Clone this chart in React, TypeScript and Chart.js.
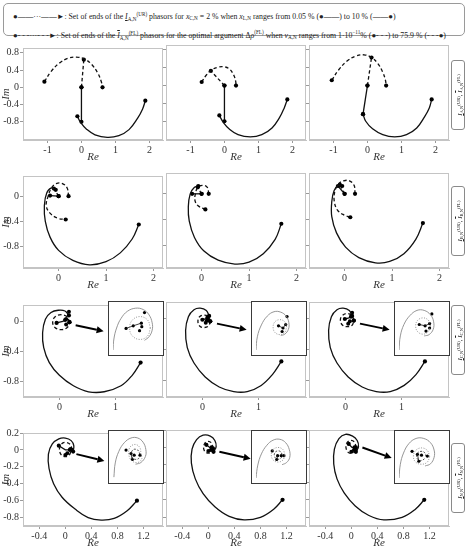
import React, { useEffect, useRef } from "react";
import { Chart, registerables } from "chart.js";
Chart.register(...registerables);

type Pt = [number, number];

// ---------- axis ranges & tick labels (per row) ----------
const R1_X: Pt = [-1.72, 2.4];
const R1_Y: Pt = [-1.22, 0.91];
const R1_XTICKS = [-1, 0, 1, 2];
const R1_YTICKS = [0.8, 0.4, 0, -0.4, -0.8];
const R2_X: Pt = [-0.75, 2.2];
const R2_Y: Pt = [-1.14, 0.32];
const R2_XTICKS = [0, 1, 2];
const R2_YTICKS = [0, -0.4, -0.8];
const R3_X: Pt = [-0.65, 1.85];
const R3_Y: Pt = [-1.01, 0.22];
const R3_XTICKS = [0, 1];
const R3_YTICKS = [0, -0.4, -0.8];
const R4_X: Pt = [-0.65, 1.5];
const R4_Y: Pt = [-0.9, 0.2];
const R4_XTICKS = [-0.4, 0, 0.4, 0.8, 1.2];
const R4_YTICKS = [0.2, 0, -0.2, -0.4, -0.6, -0.8];

// ---------- row 1 ----------
const R1C1_SOLID: Pt[] = [[-0.12, -0.67], [-0.02, -0.82], [0.15, -0.97], [0.4, -1.1], [0.76, -1.16], [1.1, -1.12], [1.4, -0.98], [1.65, -0.72], [1.8, -0.5], [1.88, -0.31]];
const R1C1_SPH: Pt[] = [[0, 0], [0, -0.8]];
const R1C1_DASH: Pt[] = [[-1.09, 0.13], [-0.9, 0.36], [-0.65, 0.56], [-0.4, 0.67], [-0.15, 0.7], [0.1, 0.65], [0.3, 0.53], [0.48, 0.33], [0.58, 0.14], [0.62, 0]];
const R1C1_DPH: Pt[] = [[0, 0], [0.07, 0.64]];

const R1C2_SOLID: Pt[] = [[-0.15, -0.67], [-0.03, -0.83], [0.15, -0.98], [0.4, -1.1], [0.76, -1.15], [1.1, -1.1], [1.4, -0.95], [1.62, -0.72], [1.76, -0.5], [1.85, -0.31]];
const R1C2_SPH: Pt[] = [[0, 0], [0, -0.8]];
const R1C2_DASH: Pt[] = [[-0.67, 0.08], [-0.55, 0.22], [-0.4, 0.34], [-0.2, 0.41], [0, 0.42], [0.15, 0.37], [0.27, 0.24], [0.33, 0.1], [0.34, 0]];
const R1C2_DPH: Pt[] = [[0, 0], [-0.4, 0.33]];

const R1C3_SOLID: Pt[] = [[-0.13, -0.64], [-0.05, -0.8], [0.15, -0.97], [0.45, -1.1], [0.8, -1.15], [1.15, -1.1], [1.45, -0.95], [1.68, -0.7], [1.82, -0.5], [1.89, -0.31]];
const R1C3_SPH: Pt[] = [[0, 0], [-0.13, -0.64]];
const R1C3_DASH: Pt[] = [[-1.05, 0.12], [-0.85, 0.35], [-0.6, 0.55], [-0.35, 0.66], [-0.1, 0.69], [0.12, 0.63], [0.3, 0.5], [0.45, 0.3], [0.53, 0.12], [0.55, 0]];
const R1C3_DPH: Pt[] = [[0, 0], [0.12, 0.63]];

// ---------- row 2 ----------
const R2C1_SOLID: Pt[] = [[1.69, -0.45], [1.55, -0.68], [1.3, -0.9], [1.0, -1.04], [0.65, -1.09], [0.3, -1.02], [0.0, -0.86], [-0.18, -0.65], [-0.28, -0.4], [-0.3, -0.15], [-0.25, 0.05], [-0.15, 0.13], [-0.06, 0.1]];
const R2C1_SPH: Pt[] = [[-0.18, 0.01], [0, 0]];
const R2C1_DASH: Pt[] = [[0.21, 0], [0.18, 0.13], [0.08, 0.2], [-0.05, 0.2], [-0.15, 0.13], [-0.22, 0.0], [-0.26, -0.15], [-0.18, -0.27], [-0.02, -0.35], [0.15, -0.37]];
const R2C1_DPH: Pt[] = [[0, 0], [-0.1, 0.12]];

const R2C2_SOLID: Pt[] = [[1.68, -0.46], [1.55, -0.7], [1.3, -0.92], [1.0, -1.05], [0.7, -1.08], [0.35, -1.02], [0.05, -0.88], [-0.15, -0.67], [-0.26, -0.42], [-0.28, -0.2], [-0.24, 0.0], [-0.15, 0.1], [-0.07, 0.12]];
const R2C2_SPH: Pt[] = [[-0.2, 0], [0, 0]];
const R2C2_DASH: Pt[] = [[0.15, 0], [0.12, 0.1], [0.02, 0.13], [-0.08, 0.1], [-0.13, 0.0], [-0.14, -0.1], [-0.08, -0.18], [0.08, -0.24]];
const R2C2_DPH: Pt[] = [[0, 0], [-0.08, 0.1]];

const R2C3_SOLID: Pt[] = [[1.65, -0.45], [1.5, -0.7], [1.25, -0.92], [0.95, -1.04], [0.65, -1.06], [0.3, -0.98], [0.02, -0.82], [-0.17, -0.6], [-0.27, -0.35], [-0.27, -0.12], [-0.22, 0.05], [-0.13, 0.13], [-0.05, 0.12]];
const R2C3_SPH: Pt[] = [[-0.14, 0.12], [0, 0]];
const R2C3_DASH: Pt[] = [[0.22, 0], [0.2, 0.13], [0.1, 0.2], [-0.02, 0.2], [-0.13, 0.15], [-0.2, 0.05], [-0.22, -0.1], [-0.15, -0.25], [0.0, -0.33], [0.12, -0.36]];
const R2C3_DPH: Pt[] = [[0, 0], [-0.1, 0.14]];

// ---------- row 3 ----------
const R3C1_SOLID: Pt[] = [[1.45, -0.55], [1.3, -0.72], [1.1, -0.86], [0.8, -0.94], [0.52, -0.94], [0.25, -0.86], [0.0, -0.72], [-0.18, -0.55], [-0.28, -0.35], [-0.3, -0.15], [-0.25, 0.03], [-0.15, 0.12], [-0.02, 0.15], [0.1, 0.14], [0.17, 0.08]];
const R3C1_DASH: Pt[] = [[0.18, -0.01], [0.14, 0.06], [0.03, 0.09], [-0.08, 0.06], [-0.12, -0.01], [-0.08, -0.08], [0.03, -0.11], [0.14, -0.08], [0.18, -0.01]];
const R3C1_SEG: Pt[] = [[-0.05, -0.02], [0.06, 0.0], [0.12, 0.03]];
const R3C1_MARKS: Pt[] = [[0.17, 0.13], [0.12, -0.04], [0.1, 0.02]];
const R3C1_ARROW: Pt[] = [[0.29, -0.05], [0.79, -0.13]];

const R3C2_SOLID: Pt[] = [[1.41, -0.55], [1.25, -0.72], [1.05, -0.86], [0.8, -0.94], [0.56, -0.94], [0.3, -0.88], [0.05, -0.75], [-0.15, -0.57], [-0.27, -0.37], [-0.3, -0.15], [-0.25, 0.03], [-0.15, 0.12], [-0.04, 0.14], [0.07, 0.11], [0.12, 0.04]];
const R3C2_DASH: Pt[] = [[0.14, -0.03], [0.11, 0.03], [0.03, 0.05], [-0.05, 0.03], [-0.08, -0.03], [-0.05, -0.09], [0.03, -0.11], [0.11, -0.09], [0.14, -0.03]];
const R3C2_SEG: Pt[] = [[0.0, -0.01], [0.05, 0.0], [0.09, 0.02]];
const R3C2_MARKS: Pt[] = [[0.08, -0.02], [0.06, -0.05], [0.1, 0.0]];
const R3C2_ARROW: Pt[] = [[0.26, -0.06], [0.79, -0.14]];

const R3C3_SOLID: Pt[] = [[1.42, -0.55], [1.26, -0.72], [1.05, -0.86], [0.8, -0.94], [0.55, -0.94], [0.3, -0.88], [0.05, -0.75], [-0.15, -0.57], [-0.27, -0.37], [-0.3, -0.15], [-0.25, 0.03], [-0.15, 0.12], [-0.04, 0.14], [0.07, 0.11], [0.12, 0.04]];
const R3C3_DASH: Pt[] = [[0.15, -0.02], [0.12, 0.04], [0.03, 0.07], [-0.06, 0.04], [-0.09, -0.02], [-0.05, -0.08], [0.03, -0.1], [0.12, -0.08], [0.15, -0.02]];
const R3C3_SEG: Pt[] = [[-0.01, 0.0], [0.05, 0.01], [0.1, 0.03]];
const R3C3_MARKS: Pt[] = [[0.08, -0.03], [0.05, -0.06], [0.12, 0.08]];
const R3C3_ARROW: Pt[] = [[0.26, -0.06], [0.79, -0.14]];

// ---------- row 4 ----------
const R4C1_SOLID: Pt[] = [[1.1, -0.6], [0.95, -0.72], [0.75, -0.81], [0.55, -0.83], [0.35, -0.8], [0.15, -0.7], [-0.05, -0.56], [-0.18, -0.4], [-0.25, -0.22], [-0.26, -0.05], [-0.2, 0.07], [-0.1, 0.13], [0.0, 0.14], [0.09, 0.11], [0.13, 0.05], [0.12, -0.02]];
const R4C1_DASH: Pt[] = [[0.1, 0.0], [0.08, 0.06], [0.0, 0.09], [-0.07, 0.06], [-0.09, 0.0], [-0.06, -0.06], [0.01, -0.08], [0.07, -0.05], [0.08, 0.01]];
const R4C1_SEG: Pt[] = [[-0.1, 0.05], [0.0, 0.0], [0.07, 0.0]];
const R4C1_MARKS: Pt[] = [[0.03, -0.04], [0.0, -0.06]];
const R4C1_ARROW: Pt[] = [[0.17, -0.05], [0.6, -0.13]];

const R4C2_SOLID: Pt[] = [[1.14, -0.6], [1.0, -0.71], [0.8, -0.8], [0.55, -0.83], [0.32, -0.79], [0.1, -0.68], [-0.08, -0.53], [-0.2, -0.36], [-0.26, -0.18], [-0.25, -0.02], [-0.18, 0.09], [-0.08, 0.14], [0.03, 0.13], [0.1, 0.08], [0.12, 0.01], [0.08, -0.05]];
const R4C2_DASH: Pt[] = [[0.07, -0.01], [0.05, 0.05], [-0.01, 0.07], [-0.06, 0.04], [-0.07, -0.02], [-0.03, -0.06], [0.03, -0.06], [0.07, -0.02]];
const R4C2_SEG: Pt[] = [[-0.03, 0.03], [0.02, 0.0], [0.05, 0.0]];
const R4C2_MARKS: Pt[] = [[0.0, -0.04], [0.04, -0.03]];
const R4C2_ARROW: Pt[] = [[0.17, -0.05], [0.65, -0.13]];

const R4C3_SOLID: Pt[] = [[1.12, -0.6], [0.98, -0.71], [0.78, -0.8], [0.5, -0.83], [0.27, -0.78], [0.06, -0.67], [-0.11, -0.52], [-0.22, -0.36], [-0.27, -0.19], [-0.26, -0.02], [-0.19, 0.1], [-0.09, 0.15], [0.02, 0.13], [0.09, 0.08], [0.11, 0.01], [0.07, -0.05]];
const R4C3_DASH: Pt[] = [[0.07, 0.0], [0.05, 0.06], [-0.01, 0.08], [-0.07, 0.05], [-0.08, -0.01], [-0.04, -0.06], [0.03, -0.06], [0.07, -0.02]];
const R4C3_SEG: Pt[] = [[-0.04, 0.04], [0.01, 0.0], [0.05, 0.0]];
const R4C3_MARKS: Pt[] = [[0.0, -0.05], [0.04, -0.03]];
const R4C3_ARROW: Pt[] = [[0.17, 0.0], [0.62, -0.12]];

// ---------- insets (unit box coordinates) ----------
const I3C1_OUT: Pt[] = [[0, 0], [0.02, 0.25], [0.08, 0.5], [0.18, 0.72], [0.32, 0.88], [0.5, 0.95], [0.67, 0.92], [0.8, 0.8], [0.87, 0.62], [0.87, 0.45], [0.8, 0.3], [0.7, 0.22]];
const I3C1_IN: Pt[] = [[0.83, 0.5], [0.77, 0.68], [0.6, 0.76], [0.43, 0.68], [0.37, 0.5], [0.43, 0.32], [0.6, 0.24], [0.77, 0.32], [0.83, 0.5]];
const I3C1_SEG: Pt[] = [[0.29, 0.49], [0.45, 0.55], [0.63, 0.61]];
const I3C1_MARKS: Pt[] = [[0.7, 0.85], [0.29, 0.49], [0.45, 0.55], [0.63, 0.61], [0.64, 0.53], [0.59, 0.44]];

const I3C2_OUT: Pt[] = [[0, 0], [0.03, 0.3], [0.12, 0.57], [0.25, 0.77], [0.4, 0.87], [0.55, 0.86], [0.67, 0.77], [0.73, 0.62], [0.72, 0.47], [0.64, 0.36], [0.55, 0.33]];
const I3C2_IN: Pt[] = [[0.68, 0.52], [0.64, 0.64], [0.53, 0.69], [0.42, 0.64], [0.38, 0.52], [0.42, 0.4], [0.53, 0.35], [0.64, 0.4], [0.68, 0.52]];
const I3C2_SEG: Pt[] = [[0.5, 0.55], [0.6, 0.5], [0.66, 0.58]];
const I3C2_MARKS: Pt[] = [[0.69, 0.76], [0.5, 0.55], [0.6, 0.5], [0.66, 0.58], [0.58, 0.42]];

const I3C3_OUT: Pt[] = [[0, 0], [0.03, 0.32], [0.11, 0.58], [0.24, 0.78], [0.4, 0.9], [0.56, 0.9], [0.7, 0.8], [0.77, 0.64], [0.76, 0.47], [0.67, 0.35], [0.56, 0.32]];
const I3C3_IN: Pt[] = [[0.7, 0.55], [0.65, 0.68], [0.53, 0.73], [0.41, 0.67], [0.37, 0.54], [0.42, 0.41], [0.54, 0.36], [0.65, 0.42], [0.7, 0.55]];
const I3C3_SEG: Pt[] = [[0.45, 0.58], [0.58, 0.55], [0.68, 0.6]];
const I3C3_MARKS: Pt[] = [[0.73, 0.82], [0.45, 0.58], [0.58, 0.55], [0.68, 0.6], [0.6, 0.43], [0.68, 0.5]];

const I4C1_OUT: Pt[] = [[0.02, 0.02], [0.05, 0.35], [0.13, 0.62], [0.25, 0.82], [0.4, 0.93], [0.55, 0.93], [0.67, 0.83], [0.73, 0.66], [0.72, 0.5], [0.62, 0.36], [0.5, 0.32]];
const I4C1_IN: Pt[] = [[0.62, 0.55], [0.6, 0.7], [0.5, 0.78], [0.38, 0.72], [0.35, 0.55], [0.42, 0.4], [0.55, 0.36], [0.64, 0.45], [0.62, 0.55]];
const I4C1_IN2: Pt[] = [[0.6, 0.55], [0.55, 0.65], [0.45, 0.66], [0.4, 0.55], [0.45, 0.45], [0.55, 0.44], [0.6, 0.5]];
const I4C1_SEG: Pt[] = [[0.4, 0.57], [0.43, 0.43]];
const I4C1_MARKS: Pt[] = [[0.29, 0.65], [0.4, 0.57], [0.47, 0.53], [0.6, 0.53], [0.43, 0.43]];

const I4C2_OUT: Pt[] = [[0, 0], [0.04, 0.3], [0.12, 0.56], [0.24, 0.76], [0.38, 0.88], [0.53, 0.9], [0.66, 0.82], [0.74, 0.66], [0.75, 0.48], [0.68, 0.36], [0.58, 0.31]];
const I4C2_IN: Pt[] = [[0.64, 0.54], [0.6, 0.66], [0.49, 0.71], [0.38, 0.66], [0.34, 0.54], [0.38, 0.42], [0.49, 0.37], [0.6, 0.42], [0.64, 0.54]];
const I4C2_IN2: Pt[] = [[0.58, 0.54], [0.55, 0.61], [0.48, 0.63], [0.42, 0.59], [0.41, 0.51], [0.45, 0.45], [0.52, 0.44], [0.57, 0.48]];
const I4C2_SEG: Pt[] = [[0.48, 0.52], [0.46, 0.43]];
const I4C2_MARKS: Pt[] = [[0.36, 0.63], [0.48, 0.52], [0.56, 0.52], [0.62, 0.52], [0.46, 0.43]];

const I4C3_OUT: Pt[] = [[0, 0], [0.03, 0.32], [0.1, 0.58], [0.22, 0.8], [0.38, 0.92], [0.55, 0.92], [0.7, 0.82], [0.78, 0.65], [0.78, 0.48], [0.7, 0.33], [0.58, 0.28]];
const I4C3_IN: Pt[] = [[0.68, 0.5], [0.63, 0.64], [0.5, 0.7], [0.37, 0.64], [0.32, 0.5], [0.37, 0.37], [0.5, 0.32], [0.63, 0.37], [0.68, 0.5]];
const I4C3_IN2: Pt[] = [[0.6, 0.5], [0.57, 0.59], [0.49, 0.62], [0.41, 0.58], [0.39, 0.5], [0.43, 0.42], [0.51, 0.41], [0.57, 0.45]];
const I4C3_SEG: Pt[] = [[0.41, 0.55], [0.44, 0.39]];
const I4C3_MARKS: Pt[] = [[0.29, 0.62], [0.41, 0.55], [0.5, 0.53], [0.63, 0.51], [0.44, 0.39]];

// ---------- text ----------
const ROW_LABEL_LETTERS = ["A", "B", "C", "N"];

// ---------- layout ----------
const COL_LEFT = [23, 166, 309];
const PLOT_W = 140;
const ROW_TOP = [45, 173, 302, 430];
const ROW_H = [95, 95, 95, 96];
const ROW_LABEL_CY = [95, 221, 340, 478];
const INSET_TOP = [0, 0, 301, 430];
const INSET_H = [0, 0, 55, 54];
const INSET_W = 56;

type Kind = "curve" | "dcurve" | "line" | "dline" | "marks" | "gray" | "dot" | "idash" | "seg";
type Series = { d: Pt[]; k: Kind };

const ROWS = [
  { x: R1_X, y: R1_Y, xt: R1_XTICKS, yt: R1_YTICKS },
  { x: R2_X, y: R2_Y, xt: R2_XTICKS, yt: R2_YTICKS },
  { x: R3_X, y: R3_Y, xt: R3_XTICKS, yt: R3_YTICKS },
  { x: R4_X, y: R4_Y, xt: R4_XTICKS, yt: R4_YTICKS },
];

type PanelCfg = { r: number; c: number; series: Series[]; arrow?: Pt[]; inset?: Series[] };

const PANELS: PanelCfg[] = [
  { r: 0, c: 0, series: [{ d: R1C1_SOLID, k: "curve" }, { d: R1C1_SPH, k: "line" }, { d: R1C1_DASH, k: "dcurve" }, { d: R1C1_DPH, k: "dline" }] },
  { r: 0, c: 1, series: [{ d: R1C2_SOLID, k: "curve" }, { d: R1C2_SPH, k: "line" }, { d: R1C2_DASH, k: "dcurve" }, { d: R1C2_DPH, k: "dline" }] },
  { r: 0, c: 2, series: [{ d: R1C3_SOLID, k: "curve" }, { d: R1C3_SPH, k: "line" }, { d: R1C3_DASH, k: "dcurve" }, { d: R1C3_DPH, k: "dline" }] },
  { r: 1, c: 0, series: [{ d: R2C1_SOLID, k: "curve" }, { d: R2C1_SPH, k: "line" }, { d: R2C1_DASH, k: "dcurve" }, { d: R2C1_DPH, k: "dline" }] },
  { r: 1, c: 1, series: [{ d: R2C2_SOLID, k: "curve" }, { d: R2C2_SPH, k: "line" }, { d: R2C2_DASH, k: "dcurve" }, { d: R2C2_DPH, k: "dline" }] },
  { r: 1, c: 2, series: [{ d: R2C3_SOLID, k: "curve" }, { d: R2C3_SPH, k: "line" }, { d: R2C3_DASH, k: "dcurve" }, { d: R2C3_DPH, k: "dline" }] },
  {
    r: 2, c: 0, arrow: R3C1_ARROW,
    series: [{ d: R3C1_SOLID, k: "curve" }, { d: R3C1_DASH, k: "dcurve" }, { d: R3C1_SEG, k: "line" }, { d: R3C1_MARKS, k: "marks" }],
    inset: [{ d: I3C1_OUT, k: "gray" }, { d: I3C1_IN, k: "dot" }, { d: I3C1_SEG, k: "seg" }, { d: I3C1_MARKS, k: "marks" }],
  },
  {
    r: 2, c: 1, arrow: R3C2_ARROW,
    series: [{ d: R3C2_SOLID, k: "curve" }, { d: R3C2_DASH, k: "dcurve" }, { d: R3C2_SEG, k: "line" }, { d: R3C2_MARKS, k: "marks" }],
    inset: [{ d: I3C2_OUT, k: "gray" }, { d: I3C2_IN, k: "dot" }, { d: I3C2_SEG, k: "seg" }, { d: I3C2_MARKS, k: "marks" }],
  },
  {
    r: 2, c: 2, arrow: R3C3_ARROW,
    series: [{ d: R3C3_SOLID, k: "curve" }, { d: R3C3_DASH, k: "dcurve" }, { d: R3C3_SEG, k: "line" }, { d: R3C3_MARKS, k: "marks" }],
    inset: [{ d: I3C3_OUT, k: "gray" }, { d: I3C3_IN, k: "dot" }, { d: I3C3_SEG, k: "seg" }, { d: I3C3_MARKS, k: "marks" }],
  },
  {
    r: 3, c: 0, arrow: R4C1_ARROW,
    series: [{ d: R4C1_SOLID, k: "curve" }, { d: R4C1_DASH, k: "dcurve" }, { d: R4C1_SEG, k: "line" }, { d: R4C1_MARKS, k: "marks" }],
    inset: [{ d: I4C1_OUT, k: "gray" }, { d: I4C1_IN, k: "dot" }, { d: I4C1_IN2, k: "idash" }, { d: I4C1_SEG, k: "seg" }, { d: I4C1_MARKS, k: "marks" }],
  },
  {
    r: 3, c: 1, arrow: R4C2_ARROW,
    series: [{ d: R4C2_SOLID, k: "curve" }, { d: R4C2_DASH, k: "dcurve" }, { d: R4C2_SEG, k: "line" }, { d: R4C2_MARKS, k: "marks" }],
    inset: [{ d: I4C2_OUT, k: "gray" }, { d: I4C2_IN, k: "dot" }, { d: I4C2_IN2, k: "idash" }, { d: I4C2_SEG, k: "seg" }, { d: I4C2_MARKS, k: "marks" }],
  },
  {
    r: 3, c: 2, arrow: R4C3_ARROW,
    series: [{ d: R4C3_SOLID, k: "curve" }, { d: R4C3_DASH, k: "dcurve" }, { d: R4C3_SEG, k: "line" }, { d: R4C3_MARKS, k: "marks" }],
    inset: [{ d: I4C3_OUT, k: "gray" }, { d: I4C3_IN, k: "dot" }, { d: I4C3_IN2, k: "idash" }, { d: I4C3_SEG, k: "seg" }, { d: I4C3_MARKS, k: "marks" }],
  },
];

const SERIF = "'Liberation Serif', 'DejaVu Serif', serif";

function toXY(d: Pt[]) {
  return d.map(([x, y]) => ({ x, y }));
}

function mkDataset(s: Series, small = false) {
  const n = s.d.length;
  const base: any = { data: toXY(s.d), pointBorderWidth: 0, pointBackgroundColor: "#000", fill: false };
  switch (s.k) {
    case "marks":
      return { ...base, showLine: false, pointRadius: small ? 1.6 : 2 };
    case "gray":
      return { ...base, showLine: true, borderColor: "#8a8a8a", borderWidth: 0.9, tension: 0.4, pointRadius: 0 };
    case "dot":
      return { ...base, showLine: true, borderColor: "#8a8a8a", borderWidth: 0.9, borderDash: [1, 1.5], tension: 0.4, pointRadius: 0 };
    case "idash":
      return { ...base, showLine: true, borderColor: "#222", borderWidth: 0.8, borderDash: [2, 1.5], tension: 0.4, pointRadius: 0 };
    case "seg":
      return { ...base, showLine: true, borderColor: "#111", borderWidth: 0.8, tension: 0, pointRadius: 0 };
    default: {
      const smooth = s.k === "curve" || s.k === "dcurve";
      const dashed = s.k === "dcurve" || s.k === "dline";
      return {
        ...base,
        showLine: true,
        borderColor: "#111",
        borderWidth: 1.3,
        borderDash: dashed ? [3.5, 2.5] : [],
        tension: smooth ? 0.4 : 0,
        pointRadius: (ctx: any) => (ctx.dataIndex === 0 || ctx.dataIndex === n - 1 ? 2.1 : 0),
      };
    }
  }
}

const framePlugin = {
  id: "frame",
  afterDraw(chart: any) {
    const { ctx, chartArea: a } = chart;
    ctx.save();
    ctx.strokeStyle = "#c4c4c4";
    ctx.lineWidth = 1;
    ctx.strokeRect(a.left + 0.5, a.top + 0.5, a.width - 1, a.height - 1);
    ctx.restore();
  },
};

function arrowPlugin(pts?: Pt[]) {
  return {
    id: "arrowMark",
    afterDatasetsDraw(chart: any) {
      if (!pts) return;
      const xs = chart.scales.x;
      const ys = chart.scales.y;
      const x1 = xs.getPixelForValue(pts[0][0]);
      const y1 = ys.getPixelForValue(pts[0][1]);
      const x2 = xs.getPixelForValue(pts[1][0]);
      const y2 = ys.getPixelForValue(pts[1][1]);
      const ang = Math.atan2(y2 - y1, x2 - x1);
      const hl = 7;
      const hw = 3.5;
      const bx = x2 - hl * Math.cos(ang);
      const by = y2 - hl * Math.sin(ang);
      const { ctx } = chart;
      ctx.save();
      ctx.strokeStyle = "#000";
      ctx.fillStyle = "#000";
      ctx.lineWidth = 2;
      ctx.beginPath();
      ctx.moveTo(x1, y1);
      ctx.lineTo(bx, by);
      ctx.stroke();
      ctx.beginPath();
      ctx.moveTo(x2, y2);
      ctx.lineTo(bx + hw * Math.sin(ang), by - hw * Math.cos(ang));
      ctx.lineTo(bx - hw * Math.sin(ang), by + hw * Math.cos(ang));
      ctx.closePath();
      ctx.fill();
      ctx.restore();
    },
  };
}

const fmt = (v: number) => {
  const r = Math.round(v * 10) / 10;
  return r === 0 ? "0" : String(r);
};

const Y_AXIS_W = 23;
const X_AXIS_H = 24;
const PAD_T = 4;
const PAD_R = 4;

function Panel({ cfg }: { cfg: PanelCfg }) {
  const ref = useRef<HTMLCanvasElement>(null);
  const row = ROWS[cfg.r];
  const h = ROW_H[cfg.r];
  const W = Y_AXIS_W + PLOT_W + PAD_R;
  const H = PAD_T + h + X_AXIS_H;
  const showY = cfg.c === 0;
  useEffect(() => {
    const tickFont = { family: SERIF, size: 10 };
    const titleFont = { family: SERIF, size: 11, style: "italic" as const };
    const chart = new Chart(ref.current!, {
      type: "scatter",
      data: { datasets: cfg.series.map((s) => mkDataset(s)) as any },
      options: {
        animation: false,
        responsive: false,
        events: [],
        layout: { padding: { top: PAD_T, right: PAD_R, left: 0, bottom: 0 } },
        plugins: { legend: { display: false }, tooltip: { enabled: false } },
        scales: {
          x: {
            type: "linear",
            min: row.x[0],
            max: row.x[1],
            afterFit: (s: any) => {
              s.height = X_AXIS_H;
            },
            afterBuildTicks: (s: any) => {
              s.ticks = row.xt.map((v) => ({ value: v }));
            },
            grid: { display: true, drawOnChartArea: false, drawTicks: true, tickLength: 3, color: "#9a9a9a" },
            border: { display: true, color: "#c4c4c4" },
            ticks: { font: tickFont, color: "#333", padding: 1, maxRotation: 0, autoSkip: false, callback: (v: any) => fmt(Number(v)) },
            title: { display: true, text: "Re", font: titleFont, color: "#333", padding: 0 },
          },
          y: {
            type: "linear",
            min: row.y[0],
            max: row.y[1],
            afterFit: (s: any) => {
              s.width = Y_AXIS_W;
            },
            afterBuildTicks: (s: any) => {
              s.ticks = row.yt.map((v) => ({ value: v }));
            },
            grid: { display: true, drawOnChartArea: false, drawTicks: true, tickLength: 3, color: "#9a9a9a" },
            border: { display: true, color: "#c4c4c4" },
            ticks: { display: showY, font: tickFont, color: "#333", padding: 1, autoSkip: false, callback: (v: any) => fmt(Number(v)) },
            title: { display: showY, text: "Im", font: titleFont, color: "#333", padding: 0 },
          },
        },
      } as any,
      plugins: [framePlugin, arrowPlugin(cfg.arrow)],
    });
    return () => chart.destroy();
  }, []);
  return (
    <canvas
      ref={ref}
      width={W}
      height={H}
      style={{ position: "absolute", left: COL_LEFT[cfg.c] - Y_AXIS_W, top: ROW_TOP[cfg.r] - PAD_T, width: W, height: H }}
    />
  );
}

function Inset({ cfg }: { cfg: PanelCfg }) {
  const ref = useRef<HTMLCanvasElement>(null);
  const w = INSET_W;
  const h = INSET_H[cfg.r];
  useEffect(() => {
    const chart = new Chart(ref.current!, {
      type: "scatter",
      data: { datasets: (cfg.inset || []).map((s) => mkDataset(s, true)) as any },
      options: {
        animation: false,
        responsive: false,
        events: [],
        layout: { padding: 0 },
        plugins: { legend: { display: false }, tooltip: { enabled: false } },
        scales: {
          x: { type: "linear", min: 0, max: 1, display: false },
          y: { type: "linear", min: 0, max: 1, display: false },
        },
      } as any,
    });
    return () => chart.destroy();
  }, []);
  return (
    <div
      style={{
        position: "absolute",
        left: COL_LEFT[cfg.c] + 85,
        top: INSET_TOP[cfg.r],
        width: w,
        height: h,
        boxSizing: "border-box",
        border: "1.5px solid #3a3a3a",
        background: "#fff",
      }}
    >
      <canvas ref={ref} width={w - 3} height={h - 3} style={{ display: "block", width: w - 3, height: h - 3 }} />
    </div>
  );
}

function Phasor({ idx, sup, over, small }: { idx: string; sup: string; over?: boolean; small?: boolean }) {
  const fs = small ? 4.6 : 5.2;
  const supSty: React.CSSProperties = { fontSize: fs, verticalAlign: small ? 2.5 : 3.5 };
  const subSty: React.CSSProperties = { fontSize: fs, verticalAlign: small ? -1 : -1.5 };
  return (
    <span>
      <i style={{ textDecoration: over ? "overline" : "underline" }}>I</i>
      <span style={subSty}>{idx}</span>
      <span style={supSty}>{sup}</span>
    </span>
  );
}

const supL: React.CSSProperties = { fontSize: 5.2, verticalAlign: 3.5 };
const subL: React.CSSProperties = { fontSize: 5.2, verticalAlign: -1.5 };

function Legend() {
  return (
    <div
      style={{
        position: "absolute",
        left: 3,
        top: 3,
        width: 462,
        height: 33,
        boxSizing: "border-box",
        border: "1px solid #9a9a9a",
        borderRadius: 5,
        fontFamily: SERIF,
        fontSize: 7.8,
        color: "#222",
        lineHeight: "14px",
        paddingLeft: 9,
        paddingTop: 2,
        whiteSpace: "nowrap",
      }}
    >
      <div>
        <span>●——···——►</span>: Set of ends of the <Phasor idx="A,N" sup="(UR)" /> phasors for <i>x</i>
        <span style={subL}>C,N</span> = 2 % when <i>x</i>
        <span style={subL}>L,N</span> ranges from 0.05 % (●——) to 10 % (——●)
      </div>
      <div>
        <span>●- - -···- - -►</span>: Set of ends of the <Phasor idx="A,N" sup="(FL)" over /> phasors for the optimal argument Δ<i>ρ</i>
        <span style={supL}>(FL)</span> when <i>v</i>
        <span style={subL}>A,N</span> ranges from 1·10<span style={supL}>−11</span>% (●- - -) to 75.9 % (- - -●)
      </div>
    </div>
  );
}

function RowLabel({ r }: { r: number }) {
  const L = 70;
  const T = 14;
  const cx = 457.5;
  const cy = ROW_LABEL_CY[r];
  const letter = ROW_LABEL_LETTERS[r];
  return (
    <div
      style={{
        position: "absolute",
        left: cx - L / 2,
        top: cy - T / 2,
        width: L,
        height: T,
        boxSizing: "border-box",
        border: "1px solid #8a8a8a",
        borderRadius: 3,
        transform: "rotate(-90deg)",
        fontFamily: SERIF,
        fontSize: 6.8,
        color: "#222",
        lineHeight: "12px",
        textAlign: "center",
        whiteSpace: "nowrap",
        overflow: "hidden",
        background: "#fff",
      }}
    >
      <Phasor idx={`${letter},N`} sup="(UR)" small />, <Phasor idx={`${letter},N`} sup="(FL)" over small />
    </div>
  );
}

export default function App() {
  return (
    <div style={{ position: "fixed", left: 0, top: 0, width: 470, height: 550, background: "#fff", overflow: "hidden" }}>
      <Legend />
      {PANELS.map((p) => (
        <Panel key={`p${p.r}${p.c}`} cfg={p} />
      ))}
      {PANELS.filter((p) => p.inset).map((p) => (
        <Inset key={`i${p.r}${p.c}`} cfg={p} />
      ))}
      {[0, 1, 2, 3].map((r) => (
        <RowLabel key={`l${r}`} r={r} />
      ))}
    </div>
  );
}
